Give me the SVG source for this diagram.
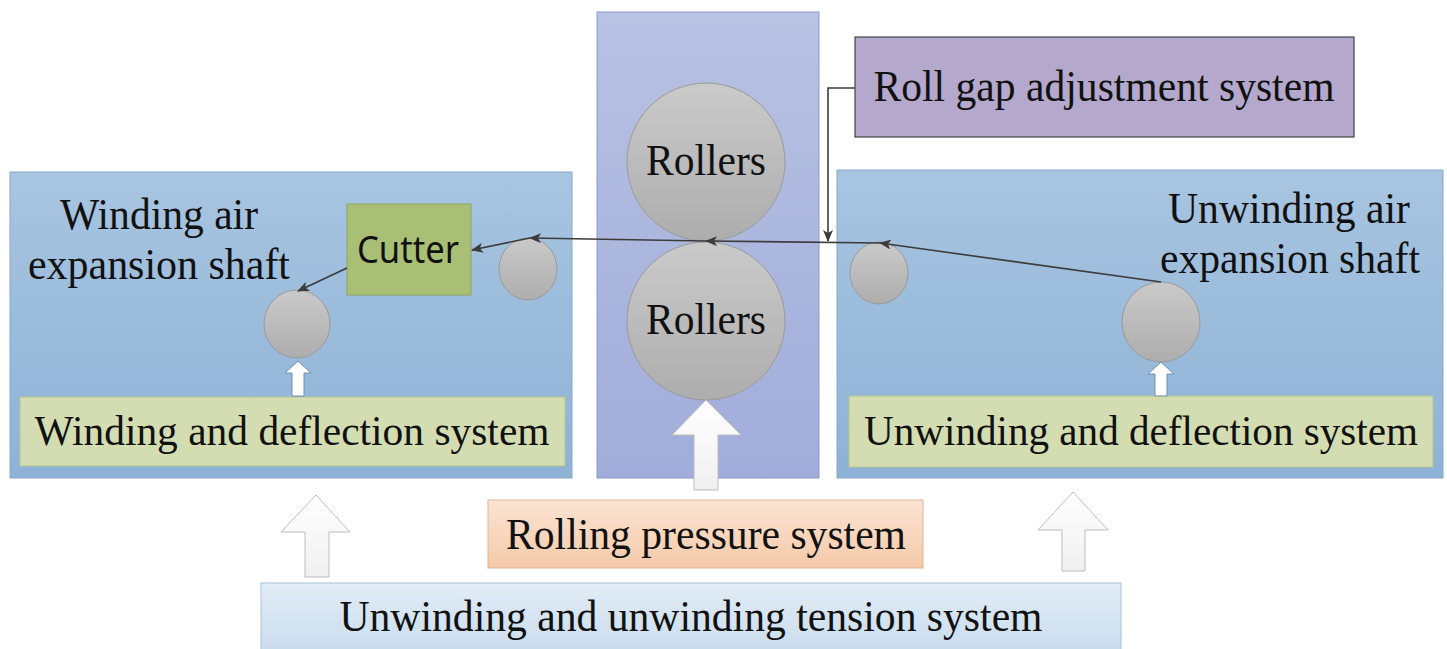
<svg xmlns="http://www.w3.org/2000/svg" width="1447" height="649" viewBox="0 0 1447 649">
<defs>
<linearGradient id="gPanel" x1="0" y1="0" x2="0" y2="1"><stop offset="0" stop-color="#a8c5e1"/><stop offset="1" stop-color="#8eb2d6"/></linearGradient>
<linearGradient id="gCenter" x1="0" y1="0" x2="0" y2="1"><stop offset="0" stop-color="#b8c2e3"/><stop offset="1" stop-color="#a1acda"/></linearGradient>
<linearGradient id="gCircle" x1="0" y1="0" x2="0" y2="1"><stop offset="0" stop-color="#cacaca"/><stop offset="1" stop-color="#adadad"/></linearGradient>
<linearGradient id="gPeach" x1="0" y1="0" x2="0" y2="1"><stop offset="0" stop-color="#fbe3d2"/><stop offset="1" stop-color="#f4caa9"/></linearGradient>
<linearGradient id="gTension" x1="0" y1="0" x2="0" y2="1"><stop offset="0" stop-color="#e2ecf5"/><stop offset="1" stop-color="#c9dcee"/></linearGradient>
<linearGradient id="gArrow" x1="0" y1="0" x2="0" y2="1"><stop offset="0" stop-color="#ffffff"/><stop offset="1" stop-color="#f0f0f0"/></linearGradient>
<marker id="ah" viewBox="0 0 12 10" refX="11" refY="5" markerWidth="12" markerHeight="10" markerUnits="userSpaceOnUse" orient="auto"><path d="M0,0 L12,5 L0,10 L3,5 z" fill="#3c3c3c"/></marker>
</defs>
<style>
.panel{fill:url(#gPanel);stroke:#88a8c9;stroke-width:1}
.center{fill:url(#gCenter);stroke:#8e9acb;stroke-width:1}
.circ{fill:url(#gCircle);stroke:#9a9a9a;stroke-width:1}
.defl{fill:#d4ddb2;stroke:#b6c48e;stroke-width:1}
.t{font-family:"Liberation Serif","Times New Roman",serif;font-size:44px;fill:#111}
.s{font-family:"Noto Sans","Liberation Sans",Arial,sans-serif;font-size:38px;fill:#111}
.wire{fill:none;stroke:#3c3c3c;stroke-width:1.6}
.arr{fill:url(#gArrow);stroke:#bdbdbd;stroke-width:1}
.sarr{fill:#ffffff;stroke:#6f8fb0;stroke-width:1}
</style>

<g id="left-panel">
<rect class="panel" x="10" y="172" width="562" height="306"/>
</g>
<g id="center-panel">
<rect class="center" x="597" y="12" width="222" height="466"/>
</g>
<g id="right-panel">
<rect class="panel" x="837" y="170" width="606" height="308"/>
</g>

<g id="roll-gap">
<rect x="855" y="37" width="499" height="100" fill="#b4a8cc" stroke="#444" stroke-width="1.2"/>
<text class="t" x="1104" y="101" text-anchor="middle" textLength="461" lengthAdjust="spacingAndGlyphs">Roll gap adjustment system</text>
</g>

<g id="roller-top">
<circle class="circ" cx="706" cy="162" r="79"/>
<text class="t" x="706" y="175" text-anchor="middle" textLength="120" lengthAdjust="spacingAndGlyphs">Rollers</text>
</g>
<g id="roller-bottom">
<circle class="circ" cx="706" cy="321" r="79"/>
<text class="t" x="706" y="334" text-anchor="middle" textLength="120" lengthAdjust="spacingAndGlyphs">Rollers</text>
</g>

<g id="cutter">
<rect x="347" y="204" width="124" height="91" fill="#a9bf75" stroke="#8ea55c" stroke-width="1"/>
<text class="s" x="408" y="263" text-anchor="middle" textLength="102" lengthAdjust="spacingAndGlyphs">Cutter</text>
</g>

<g id="left-guide-roller">
<ellipse class="circ" cx="528" cy="269" rx="29" ry="31"/>
</g>
<g id="winding-shaft">
<ellipse class="circ" cx="297" cy="324" rx="33" ry="34"/>
<text class="t" x="159" y="229" text-anchor="middle" textLength="198" lengthAdjust="spacingAndGlyphs">Winding air</text>
<text class="t" x="159" y="279" text-anchor="middle" textLength="262" lengthAdjust="spacingAndGlyphs">expansion shaft</text>
</g>
<g id="right-guide-roller">
<ellipse class="circ" cx="879" cy="273" rx="29" ry="31"/>
</g>
<g id="unwinding-shaft">
<ellipse class="circ" cx="1161" cy="322" rx="39" ry="40"/>
<text class="t" x="1289" y="223" text-anchor="middle" textLength="242" lengthAdjust="spacingAndGlyphs">Unwinding air</text>
<text class="t" x="1290" y="273" text-anchor="middle" textLength="260" lengthAdjust="spacingAndGlyphs">expansion shaft</text>
</g>

<g id="winding-deflection">
<rect class="defl" x="20" y="397" width="545" height="69"/>
<text class="t" x="292" y="445" text-anchor="middle" textLength="515" lengthAdjust="spacingAndGlyphs" style="font-size:42px">Winding and deflection system</text>
</g>
<g id="unwinding-deflection">
<rect class="defl" x="849" y="396" width="584" height="71"/>
<text class="t" x="1141" y="445" text-anchor="middle" textLength="554" lengthAdjust="spacingAndGlyphs" style="font-size:42px">Unwinding and deflection system</text>
</g>

<g id="rolling-pressure">
<rect x="488" y="500" width="435" height="68" fill="url(#gPeach)" stroke="#dcb699" stroke-width="1"/>
<text class="t" x="706" y="549" text-anchor="middle" textLength="400" lengthAdjust="spacingAndGlyphs">Rolling pressure system</text>
</g>
<g id="tension-system">
<rect x="261" y="583" width="860" height="70" fill="url(#gTension)" stroke="#a9c2da" stroke-width="1"/>
<text class="t" x="691" y="631" text-anchor="middle" textLength="703" lengthAdjust="spacingAndGlyphs">Unwinding and unwinding tension system</text>
</g>

<g id="connectors">
<path class="arr" d="M706,400 L741,435 L718,435 L718,490 L694,490 L694,435 L672,435 Z"/>
<path class="arr" d="M316,495 L350,532 L329,532 L329,577 L305,577 L305,532 L281,532 Z"/>
<path class="arr" d="M1073,492 L1108,530 L1085,530 L1085,571 L1062,571 L1062,530 L1038,530 Z"/>
<path class="sarr" d="M298,361 L311,373 L304,373 L304,396 L292,396 L292,373 L285,373 Z"/>
<path class="sarr" d="M1161,362 L1174,374 L1167,374 L1167,396 L1155,396 L1155,374 L1148,374 Z"/>
<path class="wire" d="M855,88 L828,88 L828,241" marker-end="url(#ah)"/>
<path class="wire" d="M1161,282 L880,243" marker-end="url(#ah)"/>
<path class="wire" d="M880,243 L706,241" marker-end="url(#ah)"/>
<path class="wire" d="M706,241 L530,238" marker-end="url(#ah)"/>
<path class="wire" d="M530,238 L472,250" marker-end="url(#ah)"/>
<path class="wire" d="M347,268 L298,291" marker-end="url(#ah)"/>
</g>
</svg>
